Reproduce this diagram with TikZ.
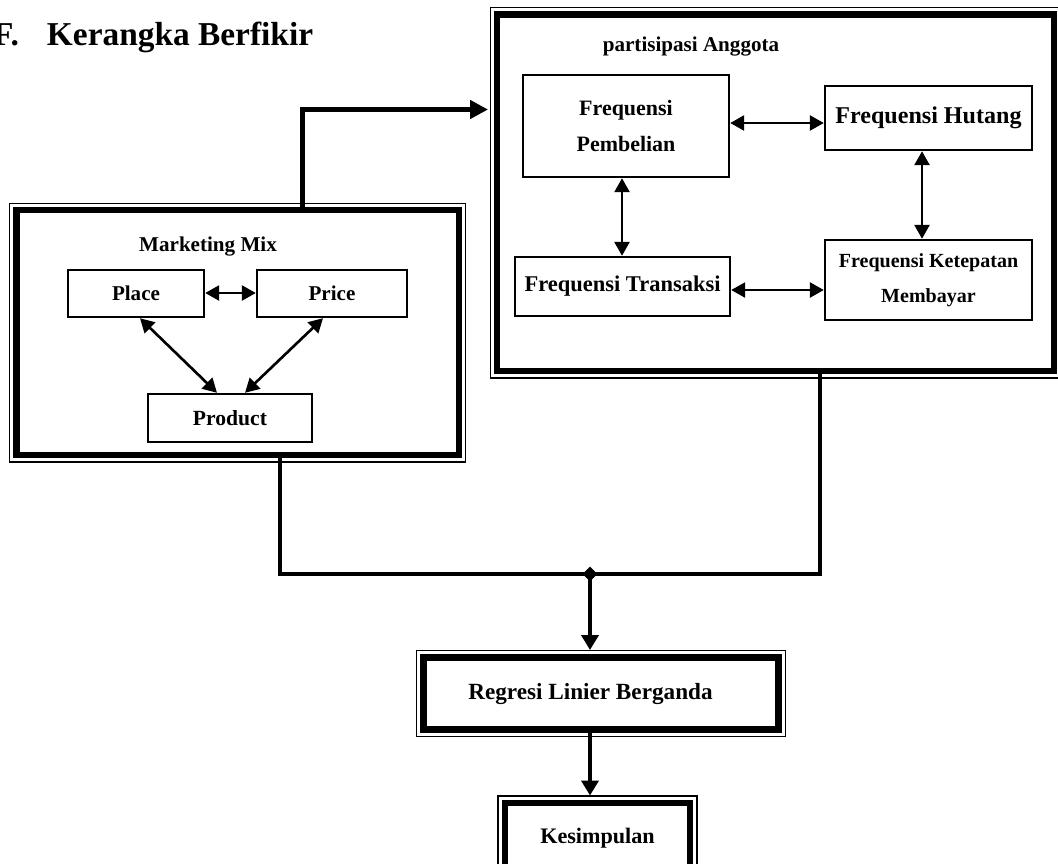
\documentclass[tikz,border=0pt]{standalone}
\usepackage{fontspec}
\setmainfont{Liberation Serif}
\usetikzlibrary{arrows.meta,shapes.geometric,calc}

\begin{document}
\begin{tikzpicture}
	[   x=0.02cm,y=-0.02cm,
		box/.style={draw=black,line width=1.4pt,align=center,inner sep=0pt,font=\fontsize{12.5}{21}\selectfont\bfseries},
		frame/.style={draw=black,line width=3.9pt,outer sep=0pt},
		thin frame/.style={draw=black,line width=0.6pt},
		title/.style={font=\fontsize{#1}{#1}\selectfont\bfseries},
	]
	\tikzset{both arrow/.style={draw,line width=1.5pt,{Triangle[length=0.28cm,width=0.3cm]}-{Triangle[length=0.28cm,width=0.3cm]}}}
	\tikzset{bus line/.style={draw,line width=2.4pt}}
	\tikzset{flow arrow/.style={draw,line width=2.3pt,-{Triangle[length=0.3cm,width=0.34cm]},shorten >=0.15cm}}
	\path[use as bounding box,fill=white] (0,0) rectangle (1058,863);
	
	\node[title=19,anchor=base west] (head) at (-13,45) {F.\hspace{16pt}Kerangka Berfikir};
	
	% the four frames
	\node[frame,minimum width=8.85cm,minimum height=4.9cm] (mm) at (237.75,332.5) {};
	\node[frame,minimum width=11.14cm,minimum height=7.13cm] (pa) at (775.5,192.75) {};
	\node[frame,minimum width=7.1cm,minimum height=1.44cm,title=13.2] (reg) at (601,693.5) {Regresi Linier Berganda\hspace*{12pt}};
	\node[frame,minimum width=3.7cm,minimum height=1.4cm,title=12.6] (kes) at (597.5,838) {Kesimpulan};
	\foreach \f in {mm,pa,reg,kes}
		\draw[thin frame] ([shift={(-7,-7)}]\f.north west) rectangle ([shift={(7,7)}]\f.south east);
	
	\node[title=12] (mmtitle) at (208,247) {Marketing Mix};
	\node[title=12] (patitle) at (691,47) {partisipasi Anggota};
	
	\node[box,minimum width=2.72cm,minimum height=0.94cm,font=\fontsize{12}{14}\selectfont\bfseries] (place) at (136,293.5) {Place};
	\node[box,minimum width=3.0cm,minimum height=0.94cm,font=\fontsize{12}{14}\selectfont\bfseries] (price) at (332,293.5) {Price};
	\node[box,minimum width=3.28cm,minimum height=0.96cm,font=\fontsize{12.3}{14}\selectfont\bfseries] (prod) at (230,418) {Product};
	
	\node[box,minimum width=4.12cm,minimum height=2.04cm] (pemb) at (626,126) {Frequensi\\Pembelian};
	\node[box,minimum width=4.14cm,minimum height=1.28cm,font=\fontsize{13.7}{16}\selectfont\bfseries] (hut) at (928.5,118) {Frequensi Hutang};
	\node[box,minimum width=4.14cm,minimum height=1.6cm,font=\fontsize{11.4}{20}\selectfont\bfseries] (ket) at (928.5,280) {Frequensi Ketepatan\\Membayar};
	\node[box,minimum width=4.3cm,minimum height=1.18cm,font=\fontsize{12.8}{15}\selectfont\bfseries] (trans) at (622.5,286.5) {Frequensi Transaksi};
	
	\path[both arrow] (place.east |- 0,293) -- (price.west |- 0,293);
	\path[both arrow] ([shift={(4,0)}]place.south) -- ([shift={(-13,0)}]prod.north);
	\path[both arrow] ([shift={(-9,0)}]price.south) -- ([shift={(15,0)}]prod.north);
	
	\path[both arrow] (pemb.east |- 0,123) -- (hut.west |- 0,123);
	\path[both arrow] (hut.south -| 922,0) -- (ket.north -| 922,0);
	\path[both arrow] (pemb.south -| 622,0) -- (trans.north -| 622,0);
	\path[both arrow] (trans.east |- 0,290) -- (ket.west |- 0,290);
	
	\path[draw,line width=2.8pt,-{Triangle[length=0.36cm,width=0.36cm]},shorten >=0.18cm] (mm.north -| 302.5,0) |- (pa.west |- 0,109.5);
	
	\node[diamond,fill=black,inner sep=0pt,minimum size=0.3cm] (junc) at (590,574) {};
	\path[bus line] (mm.south -| 280,0) |- (junc.center) -| (pa.south -| 820,0);
	\path[flow arrow] (junc.center) -- (reg.north -| junc.center);
	\path[flow arrow] (reg.south -| junc.center) -- (kes.north -| junc.center);
\end{tikzpicture}
\end{document}
